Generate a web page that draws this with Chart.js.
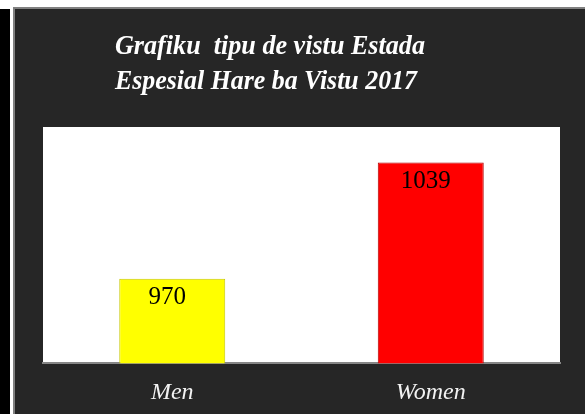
<!DOCTYPE html>
<html>
<head>
<meta charset="utf-8">
<script src="https://cdn.jsdelivr.net/npm/chart.js@4"></script>
<style>
  html, body { margin: 0; padding: 0; background: #ffffff; width: 585px; height: 414px; overflow: hidden; }
  #strip { position: absolute; left: 0; top: 9px; width: 10px; height: 405px; background: #000000; }
  #panel { position: absolute; left: 13px; top: 7px; right: 0; bottom: 0;
           background: #262626; border-left: 2px solid #808080; border-top: 2px solid #808080; }
  #chart { position: absolute; left: 0; top: 0; }
</style>
</head>
<body>
<div id="strip"></div>
<div id="panel"></div>
<canvas id="chart" width="585" height="414"></canvas>
<script>
// chart data
const categories = ['Men', 'Women'];
const visitors = [970, 1039];
const barColors = ['#ffff00', '#ff0000'];
const barEdges = ['#c8c800', '#b00000'];
const titleLines = ['Grafiku  tipu de vistu Estada', 'Espesial Hare ba Vistu 2017'];

// white plot area + title drawn on the dark panel
const panelPlugin = {
    id: 'panel',
    beforeDraw(chart) {
        const { ctx, chartArea } = chart;
        ctx.save();
        ctx.fillStyle = '#ffffff';
        ctx.fillRect(chartArea.left, chartArea.top, chartArea.right - chartArea.left, chartArea.bottom - chartArea.top);
        ctx.fillStyle = '#ffffff';
        ctx.font = 'italic bold 28px "Liberation Serif", "Times New Roman", serif';
        ctx.textAlign = 'left';
        ctx.textBaseline = 'alphabetic';
        const maxW = [310, 302];
        titleLines.forEach((line, i) => {
            ctx.fillText(line, 115, 54 + i * 35, maxW[i]);
        });
        ctx.restore();
    }
};

// value labels inside the bars
const valueLabels = {
    id: 'valueLabels',
    afterDatasetsDraw(chart) {
        const { ctx } = chart;
        const meta = chart.getDatasetMeta(0);
        ctx.save();
        ctx.fillStyle = '#000000';
        ctx.font = '25px "Liberation Serif", "Times New Roman", serif';
        ctx.textAlign = 'center';
        ctx.textBaseline = 'middle';
        meta.data.forEach((bar, i) => {
            ctx.fillText(String(visitors[i]), bar.x - 5, bar.y + 19);
        });
        ctx.restore();
    }
};

new Chart(document.getElementById('chart'), {
    type: 'bar',
    data: {
        labels: categories,
        datasets: [{
            data: visitors,
            backgroundColor: barColors,
            borderColor: barEdges,
            borderWidth: 1,
            borderSkipped: 'bottom',
            categoryPercentage: 1,
            barPercentage: 0.41
        }]
    },
    options: {
        responsive: false,
        animation: false,
        layout: {
            padding: { left: 43, right: 25, top: 127, bottom: -8 }
        },
        plugins: {
            legend: { display: false },
            title: { display: false },
            tooltip: { enabled: false }
        },
        scales: {
            x: {
                grid: { display: false, drawTicks: false },
                border: { display: true, color: '#868686', width: 2 },
                ticks: {
                    color: '#f2f2f2',
                    padding: 15,
                    font: { family: '"Liberation Serif", "Times New Roman", serif', size: 24, style: 'italic' }
                }
            },
            y: {
                display: false,
                min: 920,
                max: 1060
            }
        }
    },
    plugins: [panelPlugin, valueLabels]
});
</script>
</body>
</html>
